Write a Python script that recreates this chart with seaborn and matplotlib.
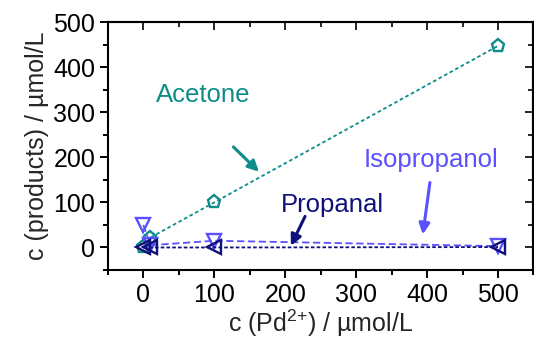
import pandas as pd
import seaborn as sns
import matplotlib.pyplot as plt
from matplotlib.ticker import MultipleLocator

# data
pd_conc = [0, 10, 100, 500]
acetone = [0, 22, 100, 447]
isopropanol = [50, 5, 15, 3]
propanal = [0, 0, 0, 1]

teal = "#0c8d8a"
violet = "#5a50ff"
navy = "#10107a"

sns.set_theme(style="white")
plt.rcParams['font.family'] = ['Liberation Sans', 'DejaVu Sans']
plt.rcParams['mathtext.fontset'] = 'custom'
plt.rcParams['mathtext.rm'] = 'Liberation Sans'

df = pd.DataFrame({"x": pd_conc * 3,
                   "y": acetone + isopropanol + propanal,
                   "series": ["Acetone"] * 4 + ["Isopropanol"] * 4 + ["Propanal"] * 4})

fig = plt.figure(figsize=(5.34, 3.44), dpi=100)
ax = fig.add_axes([0.202, 0.215, 0.797, 0.721])

styles = {"Acetone": (teal, "p", (2, 1.5)),
          "Isopropanol": (violet, "v", (4, 2)),
          "Propanal": (navy, "<", (2, 1.2))}
for name, (col, mk, dash) in styles.items():
    sub = df[df["series"] == name]
    sns.lineplot(data=sub, x="x", y="y", ax=ax, color=col, marker=mk,
                 markersize=9.5, markerfacecolor="none", markeredgecolor=col,
                 markeredgewidth=1.7, linewidth=1.3, dashes=False, legend=False)
    ax.lines[-1].set_dashes(dash)

fs = 18
ax.set_xlim(-50, 550)
ax.set_ylim(-50, 500)
ax.xaxis.set_major_locator(MultipleLocator(100))
ax.xaxis.set_minor_locator(MultipleLocator(50))
ax.yaxis.set_major_locator(MultipleLocator(100))
ax.yaxis.set_minor_locator(MultipleLocator(50))
ax.tick_params(which="both", direction="out", width=1.4, labelsize=fs, colors="black", pad=3)
ax.tick_params(which="major", length=6)
ax.tick_params(which="minor", length=3.5)
ax.tick_params(axis="x", bottom=True, which="both")
ax.tick_params(axis="y", left=True, which="both")
for s in ax.spines.values():
    s.set_linewidth(1.5)
    s.set_color("black")

# mirrored ticks pointing inward on top and right
for loc, axname in (("top", "x"), ("right", "y")):
    sec = ax.secondary_xaxis(loc) if axname == "x" else ax.secondary_yaxis(loc)
    a = sec.xaxis if axname == "x" else sec.yaxis
    a.set_major_locator(MultipleLocator(100))
    a.set_minor_locator(MultipleLocator(50))
    sec.tick_params(which="both", direction="in", width=1.4, labelsize=0,
                    labeltop=False, labelright=False)
    sec.tick_params(which="major", length=6)
    sec.tick_params(which="minor", length=3.5)
    sec.spines[loc].set_linewidth(1.5)

ax.set_xlabel(r"c (Pd$^{2{+}}$) / µmol/L", fontsize=fs, labelpad=1)
ax.set_ylabel("c (products) / µmol/L", fontsize=fs, labelpad=3)

arrow = dict(arrowstyle="-|>", lw=2.2, mutation_scale=16, shrinkA=0, shrinkB=0)
ax.annotate("", xy=(163, 168), xytext=(127, 223), arrowprops=dict(arrow, color=teal))
ax.text(18, 338, "Acetone", color=teal, fontsize=fs + 0.5, va="center")
ax.annotate("", xy=(394, 29), xytext=(404, 144), arrowprops=dict(arrow, color=violet))
ax.text(310, 193, "Isopropanol", color=violet, fontsize=fs + 0.5, va="center")
ax.annotate("", xy=(208, 4), xytext=(228, 69), arrowprops=dict(arrow, color=navy))
ax.text(194, 95, "Propanal", color=navy, fontsize=fs + 0.5, va="center")

fig.savefig("out.png", dpi=100)
